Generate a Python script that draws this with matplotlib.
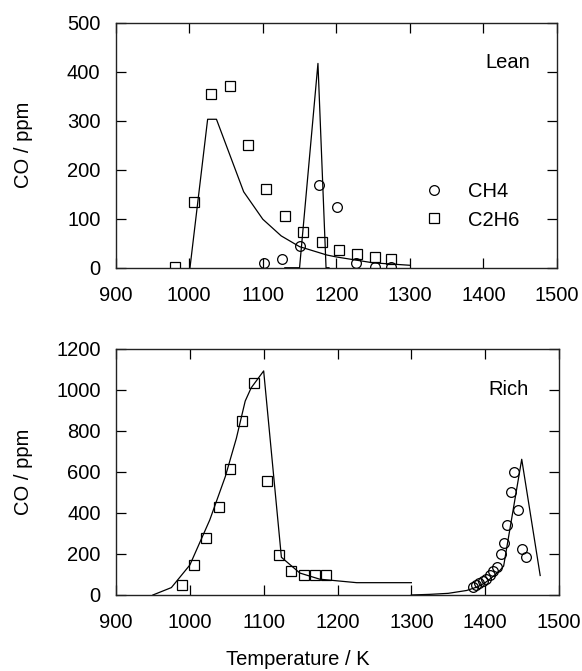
import matplotlib
matplotlib.use("Agg")
import matplotlib.pyplot as plt
from matplotlib.lines import Line2D

plt.rcParams['font.family'] = ['Liberation Sans', 'DejaVu Sans']

# ---- Lean data ----
lean_c2h6_T = [980, 1006, 1030, 1056, 1080, 1105, 1130, 1155, 1180, 1204, 1228, 1252, 1275]
lean_c2h6_ppm = [2, 135, 355, 370, 250, 160, 105, 73, 52, 37, 28, 21, 17]
lean_ch4_T = [1101, 1126, 1151, 1176, 1201, 1227, 1252, 1275]
lean_ch4_ppm = [10, 18, 45, 169, 123, 9, 2, 1]
lean_c2h6_model_T = [1001, 1025, 1037, 1074, 1100, 1125, 1150, 1187, 1200, 1250, 1300]
lean_c2h6_model_ppm = [0, 303, 303, 155, 99, 65, 43, 26, 22, 10, 5]
lean_ch4_model_T = [1130, 1150, 1175, 1186, 1190]
lean_ch4_model_ppm = [0, 0, 417, 0, 0]

# ---- Rich data ----
rich_c2h6_T = [990, 1006, 1022, 1039, 1055, 1071, 1087, 1104, 1121, 1137, 1154, 1170, 1184]
rich_c2h6_ppm = [50, 148, 276, 431, 616, 849, 1034, 558, 195, 115, 96, 96, 96]
rich_ch4_T = [1383, 1388, 1392, 1397, 1401, 1406, 1410, 1416, 1422, 1426, 1430, 1435, 1439, 1445, 1450, 1455]
rich_ch4_ppm = [41, 47, 57, 67, 80, 98, 117, 138, 198, 252, 343, 500, 598, 413, 224, 185]
rich_c2h6_model_T = [950, 975, 1000, 1027, 1048, 1063, 1075, 1083, 1100, 1124, 1149, 1176, 1226, 1300]
rich_c2h6_model_ppm = [0, 36, 146, 366, 577, 764, 946, 1010, 1093, 184, 107, 77, 60, 60]
rich_ch4_model_T = [1300, 1325, 1350, 1375, 1390, 1400, 1410, 1420, 1425, 1449.5, 1474.5]
rich_ch4_model_ppm = [0, 3, 8, 22, 40, 60, 88, 120, 141, 662, 95]

x_ticks = [900, 1000, 1100, 1200, 1300, 1400, 1500]
lean_y_ticks = [0, 100, 200, 300, 400, 500]
rich_y_ticks = [0, 200, 400, 600, 800, 1000, 1200]

FS = 14.5

fig = plt.figure(figsize=(5.82, 6.71), dpi=100)
ax1 = fig.add_axes([0.1988, 0.601, 0.7582, 0.3651])
ax2 = fig.add_axes([0.1993, 0.1133, 0.7612, 0.3666])

lw = 0.9
mk = dict(linestyle='none', markerfacecolor='none', markeredgecolor='black', markeredgewidth=0.9)

for ax in (ax1, ax2):
    ax.set_xlim(900, 1500)
    ax.set_xticks(x_ticks)
    ax.tick_params(direction='in', top=True, right=True, length=7.5, width=0.9,
                   labelsize=FS, pad=11, colors='black')
    ax.tick_params(axis='x', pad=13)
    for s in ax.spines.values():
        s.set_linewidth(1.0)
        s.set_color('#222222')
    ax.set_ylabel('CO / ppm', fontsize=FS)
    ax.yaxis.set_label_coords(-0.187, 0.5)

# Lean
ax1.plot(lean_c2h6_model_T, lean_c2h6_model_ppm, color='black', lw=lw)
ax1.plot(lean_ch4_model_T, lean_ch4_model_ppm, color='black', lw=lw)
ax1.plot(lean_ch4_T, lean_ch4_ppm, marker='o', markersize=7, **mk)
ax1.plot(lean_c2h6_T, lean_c2h6_ppm, marker='s', markersize=7.5, **mk)
ax1.set_ylim(0, 500)
ax1.set_yticks(lean_y_ticks)
ax1.text(0.889, 0.838, 'Lean', transform=ax1.transAxes, ha='center', va='center', fontsize=FS)

handles = [Line2D([], [], marker='o', markersize=7, **mk),
           Line2D([], [], marker='s', markersize=7.5, **mk)]
ax1.legend(handles, ['CH4', 'C2H6'], loc='center left', bbox_to_anchor=(0.699, 0.252),
           frameon=False, fontsize=FS, handlelength=1.0, handletextpad=1.2,
           borderpad=0, borderaxespad=0, labelspacing=0.45)

# Rich
ax2.plot(rich_c2h6_model_T, rich_c2h6_model_ppm, color='black', lw=lw)
ax2.plot(rich_ch4_model_T, rich_ch4_model_ppm, color='black', lw=lw)
ax2.plot(rich_ch4_T, rich_ch4_ppm, marker='o', markersize=7, **mk)
ax2.plot(rich_c2h6_T, rich_c2h6_ppm, marker='s', markersize=7.5, **mk)
ax2.set_ylim(0, 1200)
ax2.set_yticks(rich_y_ticks)
ax2.text(0.886, 0.837, 'Rich', transform=ax2.transAxes, ha='center', va='center', fontsize=FS)
ax2.set_xlabel('Temperature / K', fontsize=FS)
ax2.xaxis.set_label_coords(0.41, -0.2236)

fig.savefig('out.png', dpi=100)
